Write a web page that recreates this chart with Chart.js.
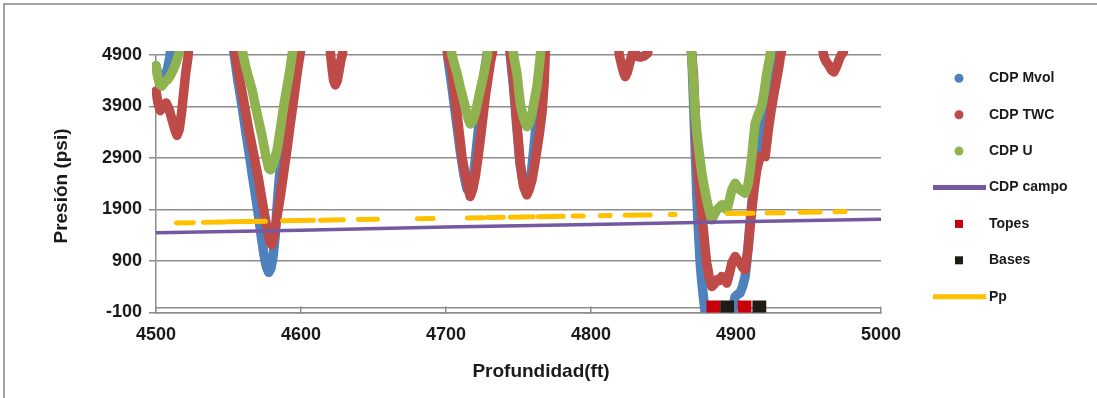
<!DOCTYPE html>
<html>
<head>
<meta charset="utf-8">
<script src="https://cdn.jsdelivr.net/npm/chart.js@4.4.0/dist/chart.umd.min.js"></script>
<style>
  html, body { margin: 0; padding: 0; background: #fff; }
  #wrap { position: relative; width: 1097px; height: 398px; overflow: hidden; }
  #frame { position: absolute; left: 3px; top: 3px; width: 1200px; height: 500px;
           border-top: 2px solid #a3a3a3; border-left: 2px solid #a3a3a3; }
  canvas { position: absolute; left: 0; top: 0; }
</style>
</head>
<body>
<div id="wrap"><div id="frame"></div><canvas id="chart" width="1097" height="398"></canvas></div>
<script>
// axis ticks
const xTicks = [4500, 4600, 4700, 4800, 4900, 5000];
const yTicks = [-100, 900, 1900, 2900, 3900, 4900];
const baseLine = 0;
const xTitle = 'Profundidad(ft)';
const yTitle = 'Presión (psi)';
const seriesNames = ['CDP Mvol', 'CDP TWC', 'CDP U', 'CDP campo', 'Topes', 'Bases', 'Pp'];

// CDP Mvol (null = break between intervals)
const mvolDepth = [4500, 4502, 4504, 4506, 4508, 4509.5, 4511, 4511,
  4552.5, 4554.5, 4556.5, 4559.4, 4562, 4564.5, 4566.3, 4568.5, 4570.8, 4572.5, 4574.3, 4576, 4577.7, 4579.3, 4580.8, 4582.2, 4583.5, 4585, 4586.5, 4588, 4590, 4592, 4594, 4595.5, 4595.5,
  4700, 4701.5, 4704, 4707, 4710, 4712.5, 4714.5, 4716.5, 4718.5, 4720.5, 4722.5, 4724.5, 4726.5, 4728.5, 4729.5, 4729.5,
  4743.5, 4744.5, 4746.5, 4749, 4751, 4753, 4755, 4757, 4759, 4761, 4763, 4765, 4767, 4768, 4768,
  4868.5, 4869.5, 4870.6, 4871.8, 4873, 4874.1, 4875.3, 4876.4, 4877.5, 4878.7, 4880, 4888, 4896, 4898, 4899.4, 4901, 4902.8, 4904.5, 4906.3, 4907.5, 4908.5, 4909.7, 4910.9, 4912, 4913.2, 4914.3, 4915.4, 4917, 4918.9, 4920.5, 4922.3, 4924, 4925.8, 4927, 4928.1, 4929];
const mvolPsi = [4690, 4420, 4330, 4440, 4640, 4860, 5200, null,
  5200, 4800, 4400, 3900, 3400, 2950, 2600, 2200, 1760, 1400, 1050, 800, 680, 760, 1000, 1400, 1950, 2500, 2950, 3450, 3950, 4400, 4850, 5200, null,
  5200, 4800, 4300, 3650, 3000, 2550, 2300, 2230, 2450, 2950, 3500, 4050, 4550, 4950, 5200, null,
  5200, 4850, 4300, 3450, 2800, 2450, 2300, 2350, 2650, 3200, 3800, 4400, 4900, 5200, null,
  5200, 4900, 4091, 3121, 2151, 1505, 859, 500, 211, -105, -400, -500, -400, 0, 211, 250, 277, 400, 600, 900, 1247, 1650, 2023, 2350, 2669, 2950, 3251, 3450, 3639, 3850, 4091, 4350, 4609, 4800, 5000, 5200];

// CDP TWC
const twcDepth = [4500, 4501.5, 4503, 4505, 4507, 4509, 4511, 4513, 4514.5, 4516, 4517.5, 4519, 4520.5, 4522, 4523, 4523,
  4553, 4555, 4557, 4560.5, 4564, 4567.5, 4570.8, 4573, 4575.5, 4577.3, 4579, 4579.8, 4581.5, 4583.5, 4586, 4588, 4590.5, 4592.7, 4595, 4597.3, 4599.6, 4600.5, 4600.5,
  4619.5, 4620.5, 4621.5, 4622.5, 4623.7, 4625, 4626.3, 4627.5, 4628.6, 4629.5, 4629.5,
  4700, 4701.5, 4704.1, 4706, 4707.6, 4709.5, 4711, 4712.8, 4714.5, 4716.7, 4718.5, 4720.2, 4722, 4723.6, 4725.5, 4727.1, 4729, 4730.5, 4732, 4733, 4733,
  4743.5, 4744.5, 4746.6, 4748.9, 4751.2, 4753.5, 4755.8, 4757.5, 4759.3, 4761, 4762.7, 4764.5, 4766.2, 4767.7, 4768.4, 4769, 4769,
  4818.5, 4819.5, 4821, 4822.5, 4823.6, 4825, 4826.5, 4828, 4829.3, 4830.5, 4832, 4834, 4836.5, 4839, 4840.5, 4840.5,
  4868.5, 4869.5, 4870.6, 4871.8, 4873, 4874.2, 4875.3, 4876.4, 4877.5, 4878.7, 4879.8, 4881.5, 4883.3, 4885, 4886.8, 4888.5, 4890.2, 4892, 4893.7, 4895.4, 4897.1, 4899.4, 4901, 4902.8, 4904.5, 4906.3, 4907.4, 4908.5, 4909.7, 4910.9, 4912.5, 4914.3, 4916.6, 4918.5, 4920.1, 4922.3, 4924, 4925.8, 4927.5, 4929.2, 4930.5, 4931.6, 4932.5, 4932.5,
  4959, 4960.5, 4962, 4964, 4966, 4967.5, 4969, 4971, 4972.5, 4974, 4975];
const twcPsi = [4200, 3950, 3820, 3900, 3970, 3850, 3650, 3450, 3340, 3450, 3750, 4150, 4550, 4850, 5200, null,
  5200, 4850, 4545, 4000, 3445, 2950, 2475, 2100, 1699, 1420, 1247, 1214, 1400, 1763, 2200, 2605, 3100, 3575, 4050, 4545, 4964, 5200, null,
  5200, 4880, 4620, 4400, 4320, 4400, 4600, 4800, 4920, 5200, null,
  5200, 4850, 4609, 4100, 3769, 3300, 2927, 2650, 2411, 2151, 2300, 2539, 2900, 3251, 3700, 4091, 4450, 4739, 4950, 5200, null,
  5200, 4900, 4415, 3575, 2799, 2345, 2184, 2300, 2475, 2750, 3057, 3400, 3769, 4351, 4867, 5200, null,
  5200, 4900, 4720, 4560, 4480, 4560, 4720, 4880, 5000, 4950, 4870, 4860, 4880, 4930, 5200, null,
  5200, 4900, 4545, 3769, 2927, 2500, 2151, 1800, 1505, 1150, 859, 600, 405, 450, 535, 520, 600, 560, 471, 650, 859, 987, 920, 859, 780, 729, 950, 1181, 1550, 1893, 2300, 2669, 2927, 2930, 2927, 3445, 3780, 4091, 4350, 4609, 4850, 5000, 5200, null,
  5200, 4880, 4780, 4700, 4600, 4570, 4650, 4800, 4900, 4950, 5200];

// CDP U
const uDepth = [4500, 4501, 4502.5, 4504, 4506, 4508, 4510, 4512, 4514, 4516, 4517, 4517,
  4558, 4559.4, 4562, 4564.5, 4566.3, 4569, 4571, 4573.2, 4575.5, 4577.7, 4579, 4581, 4583.5, 4586, 4588, 4590.5, 4592.7, 4594.3, 4595, 4595,
  4703, 4704.1, 4706, 4707.6, 4710, 4712.1, 4714, 4715.6, 4716.7, 4718.5, 4720.2, 4722, 4723.6, 4725.5, 4727, 4728.5, 4729.5, 4729.5,
  4745.5, 4746.6, 4748.9, 4751.2, 4753, 4754.7, 4755.8, 4757.5, 4759.3, 4761, 4762.7, 4764, 4765, 4765.8, 4765.8,
  4868.5, 4869.5, 4870.6, 4871.8, 4873, 4874.1, 4875.3, 4876.4, 4878, 4879.8, 4881.5, 4883.3, 4885, 4886.8, 4888.5, 4890.2, 4892, 4893.7, 4895.4, 4897.1, 4899.4, 4901, 4902.8, 4904.5, 4906.3, 4907.4, 4908.5, 4909.7, 4910.9, 4912, 4913.2, 4915, 4916.6, 4918, 4918.9, 4920, 4921.2, 4922.4, 4923.5, 4924.3];
const uPsi = [4690, 4500, 4330, 4300, 4370, 4420, 4500, 4620, 4760, 4950, 5200, null,
  5200, 5000, 4650, 4400, 4221, 3850, 3600, 3315, 2980, 2700, 2670, 2780, 3057, 3500, 3897, 4300, 4673, 5000, 5200, null,
  5200, 4900, 4700, 4545, 4250, 4027, 3800, 3639, 3560, 3620, 3769, 4000, 4221, 4450, 4673, 4880, 5200, null,
  5200, 4900, 4545, 3963, 3720, 3575, 3509, 3580, 3769, 4030, 4285, 4600, 4867, 5200, null,
  5200, 4900, 4415, 3769, 3400, 3121, 2850, 2605, 2350, 2087, 1880, 1699, 1800, 1893, 1940, 1990, 1930, 1893, 2080, 2281, 2410, 2350, 2281, 2250, 2217, 2300, 2410, 2650, 2927, 3250, 3575, 3720, 3833, 3950, 4091, 4300, 4545, 4720, 4867, 5200];

// CDP campo
const campoDepth = [4500, 4600, 4700, 4800, 4900, 5000];
const campoPsi = [1450, 1495, 1560, 1610, 1660, 1710];

// Topes / Bases
const topesDepth = [4884.4, 4905.9];
const topesPsi = [0, 0];
const basesDepth = [4893.9, 4916.1];
const basesPsi = [0, 0];

// Pp (gaps where no data)
const ppDepth = [4514.1, 4525.8, 4525.8, 4532.7, 4547.9, 4547.9, 4550, 4575.5, 4575.5, 4587.2, 4608.5, 4608.5,
  4613.4, 4629.2, 4629.2, 4639.6, 4652.7, 4652.7, 4680.2, 4691.2, 4691.2, 4714.7, 4725.7, 4725.7,
  4728.4, 4739.5, 4739.5, 4744.3, 4760.2, 4760.2, 4763.6, 4780.9, 4780.9, 4787.7, 4794.6, 4794.6,
  4806.3, 4813.2, 4813.2, 4823.5, 4840.8, 4840.8, 4854.6, 4858, 4858, 4893.9, 4911.8, 4911.8,
  4921.5, 4932.5, 4932.5, 4944.2, 4958, 4958, 4968.3, 4975.2];
const ppPsi = [1640, 1645, null, 1650, 1655, null, 1660, 1670, null, 1680, 1690, null,
  1690, 1700, null, 1705, 1710, null, 1720, 1725, null, 1735, 1740, null,
  1745, 1750, null, 1750, 1760, null, 1760, 1770, null, 1775, 1775, null,
  1780, 1785, null, 1790, 1795, null, 1805, 1805, null, 1820, 1825, null,
  1830, 1835, null, 1845, 1850, null, 1855, 1860];

const plotFont = '"Liberation Sans", Arial, sans-serif';
const gridGray = '#8c8c8c';

function pairs(depths, values) {
  return depths.map((d, i) => ({ x: d, y: values[i] }));
}

const curveStyle = {
  pointRadius: 0, borderWidth: 9.5, borderCapStyle: 'round', borderJoinStyle: 'round',
  tension: 0, spanGaps: false, clip: { left: 4, top: 4, right: 0, bottom: 0 }
};

const datasets = [
  { label: seriesNames[0], data: pairs(mvolDepth, mvolPsi), borderColor: '#4f81bd', backgroundColor: '#4f81bd', order: 7, mark: 'circle', ...curveStyle },
  { label: seriesNames[1], data: pairs(twcDepth, twcPsi), borderColor: '#be4b48', backgroundColor: '#be4b48', order: 6, mark: 'circle', ...curveStyle },
  { label: seriesNames[2], data: pairs(uDepth, uPsi), borderColor: '#8fb34f', backgroundColor: '#8fb34f', order: 5, mark: 'circle', ...curveStyle },
  { label: seriesNames[3], data: pairs(campoDepth, campoPsi), borderColor: '#7459a0', backgroundColor: '#7459a0', order: 4, mark: 'line',
    pointRadius: 0, borderWidth: 3.5, tension: 0 },
  { label: seriesNames[4], data: pairs(topesDepth, topesPsi), showLine: false, backgroundColor: '#c8000a', borderColor: '#c8000a', order: 3, mark: 'rect',
    pointStyle: 'rect', pointRadius: 9.8, borderWidth: 0 },
  { label: seriesNames[5], data: pairs(basesDepth, basesPsi), showLine: false, backgroundColor: '#1d1b14', borderColor: '#1d1b14', order: 2, mark: 'rect',
    pointStyle: 'rect', pointRadius: 9.8, borderWidth: 0 },
  { label: seriesNames[6], data: pairs(ppDepth, ppPsi), borderColor: '#ffc000', backgroundColor: '#ffc000', order: 1, mark: 'line',
    pointRadius: 0, borderWidth: 5, borderCapStyle: 'round', tension: 0, spanGaps: false }
];

// legend on the right side, drawn by hand to sit where the original has it
const sideLegend = {
  id: 'sideLegend',
  afterDraw(chart) {
    const ctx = chart.ctx;
    ctx.save();
    chart.data.datasets.forEach((ds, i) => {
      const y = 78.3 + i * 36.4;
      const cx = 959;
      ctx.fillStyle = ds.backgroundColor;
      ctx.strokeStyle = ds.borderColor;
      if (ds.mark === 'circle') {
        ctx.beginPath();
        ctx.arc(cx, y, 4.5, 0, Math.PI * 2);
        ctx.fill();
      } else if (ds.mark === 'rect') {
        ctx.fillRect(cx - 4, y - 4, 8, 8);
      } else {
        ctx.lineWidth = 5;
        ctx.lineCap = 'butt';
        ctx.beginPath();
        ctx.moveTo(933, y);
        ctx.lineTo(986, y);
        ctx.stroke();
      }
      ctx.fillStyle = '#1a1a1a';
      ctx.font = 'bold 14px ' + plotFont;
      ctx.textAlign = 'left';
      ctx.textBaseline = 'middle';
      ctx.fillText(ds.label, 989, y);
    });
    ctx.restore();
  }
};

const axisTitles = {
  id: 'axisTitles',
  afterDraw(chart) {
    const ctx = chart.ctx;
    ctx.save();
    ctx.fillStyle = '#1a1a1a';
    ctx.font = 'bold 19px ' + plotFont;
    ctx.textAlign = 'center';
    ctx.textBaseline = 'middle';
    ctx.fillText(xTitle, 541, 372);
    ctx.translate(62, 186);
    ctx.rotate(-Math.PI / 2);
    ctx.fillText(yTitle, 0, 0);
    ctx.restore();
  }
};

new Chart(document.getElementById('chart'), {
  type: 'line',
  data: { datasets: datasets },
  options: {
    responsive: false,
    animation: false,
    events: [],
    layout: { padding: { top: 55, right: 216, bottom: 0, left: 0 } },
    plugins: { legend: { display: false }, tooltip: { enabled: false } },
    scales: {
      x: {
        type: 'linear', min: 4500, max: 5000,
        afterBuildTicks: s => { s.ticks = xTicks.map(v => ({ value: v })); },
        afterFit: s => { s.height = 85.5; },
        ticks: { color: '#1a1a1a', padding: 18, maxRotation: 0, font: { family: plotFont, size: 18, weight: 'bold' },
          callback: v => String(v) },
        grid: { drawOnChartArea: false, drawTicks: true, tickLength: -6, color: gridGray, lineWidth: 1.5 },
        border: { color: gridGray, width: 1.5 }
      },
      y: {
        type: 'linear', min: -100, max: 4900,
        afterBuildTicks: s => { s.ticks = yTicks.concat([baseLine]).sort((a, b) => a - b).map(v => ({ value: v })); },
        afterFit: s => { s.width = 156; },
        ticks: { color: '#1a1a1a', padding: 7, font: { family: plotFont, size: 18, weight: 'bold' },
          callback: v => (v === baseLine ? '' : String(v)) },
        grid: { color: gridGray, lineWidth: 1.5, tickLength: 7,
          tickColor: c => (c.tick && c.tick.value === baseLine ? 'rgba(0,0,0,0)' : gridGray) },
        border: { color: gridGray, width: 1.5 }
      }
    }
  },
  plugins: [sideLegend, axisTitles]
});
</script>
</body>
</html>
